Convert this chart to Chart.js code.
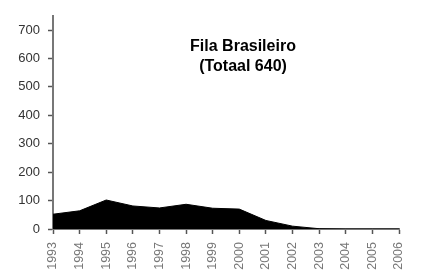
<!DOCTYPE html>
<html>
<head>
<meta charset="utf-8">
<script src="https://cdn.jsdelivr.net/npm/chart.js@4"></script>
<style>
  html, body { margin: 0; padding: 0; background: #fff; }
  #wrap { width: 422px; height: 272px; }
</style>
</head>
<body>
<div id="wrap"><canvas id="chart"></canvas></div>
<script>
const years = ['1993', '1994', '1995', '1996', '1997', '1998', '1999', '2000', '2001', '2002', '2003', '2004', '2005', '2006']
const dogs = [52, 64, 102, 81, 74, 87, 73, 70, 30, 10, 1, 0, 0, 0]
const yTicks = [0, 100, 200, 300, 400, 500, 600, 700]
const titleLines = ['Fila Brasileiro', '(Totaal 640)']

const titleText = {
  id: 'titleText',
  afterDraw (chart) {
    const ctx = chart.ctx
    ctx.save()
    ctx.fillStyle = '#000'
    ctx.font = 'bold 16px "Liberation Sans", Arial, sans-serif'
    ctx.textAlign = 'center'
    ctx.textBaseline = 'middle'
    ctx.fillText(titleLines[0], 243, 47)
    ctx.fillText(titleLines[1], 243, 67)
    ctx.restore()
  }
}

const chart = new Chart(document.getElementById('chart'), {
  type: 'line',
  data: {
    labels: years,
    datasets: [{
      data: dogs,
      fill: 'origin',
      backgroundColor: '#000',
      borderColor: '#000',
      borderWidth: 1,
      pointRadius: 0,
      tension: 0
    }]
  },
  options: {
    responsive: true,
    maintainAspectRatio: false,
    animation: false,
    layout: { padding: { left: 0, top: 7, right: 21, bottom: 0 } },
    plugins: { legend: { display: false }, tooltip: { enabled: false } },
    scales: {
      x: {
        offset: false,
        afterFit: (s) => { s.height = 43 },
        border: { color: '#777', width: 2 },
        grid: { drawOnChartArea: false, drawTicks: true, tickLength: 5, tickColor: '#555', tickWidth: 1.5 },
        ticks: {
          minRotation: 90,
          maxRotation: 90,
          autoSkip: false,
          padding: 8,
          color: '#777',
          font: { family: '"Liberation Sans Narrow", "Liberation Sans", Arial, sans-serif', size: 12.5 }
        }
      },
      y: {
        min: 0,
        max: 750,
        afterFit: (s) => { s.width = 53 },
        afterBuildTicks: (s) => { s.ticks = yTicks.map(v => ({ value: v })) },
        border: { color: '#777', width: 2 },
        grid: { drawOnChartArea: false, drawTicks: true, tickLength: 5, tickColor: '#555', tickWidth: 1.5 },
        ticks: {
          autoSkip: false,
          padding: 8,
          color: '#333',
          font: { family: '"Liberation Sans", Arial, sans-serif', size: 13 }
        }
      }
    }
  },
  plugins: [titleText]
})
</script>
</body>
</html>
